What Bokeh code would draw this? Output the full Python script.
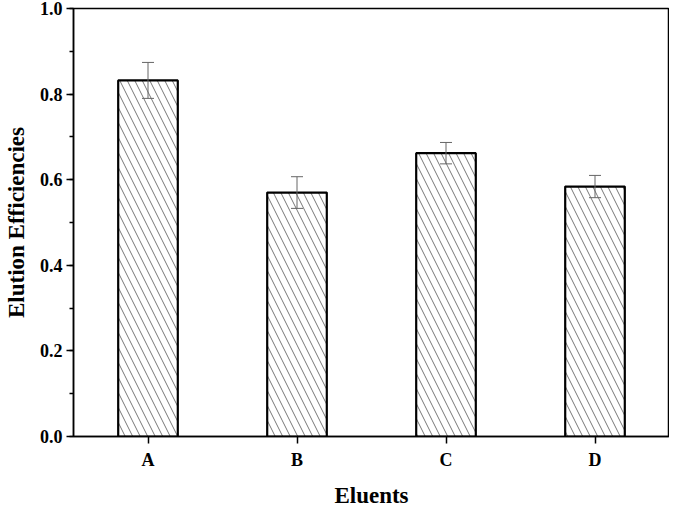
from bokeh.plotting import figure
from bokeh.models import ColumnDataSource, Whisker, SingleIntervalTicker, NumeralTickFormatter, Range1d
from bokeh.embed import file_html
from bokeh.resources import INLINE

eluents = ["A", "B", "C", "D"]
efficiency = [0.832, 0.570, 0.662, 0.584]
error = [0.042, 0.037, 0.025, 0.026]

lower = [v - e for v, e in zip(efficiency, error)]
upper = [v + e for v, e in zip(efficiency, error)]
src = ColumnDataSource(dict(x=eluents, top=efficiency, lower=lower, upper=upper))

p = figure(width=669, height=510, x_range=eluents, y_range=Range1d(0, 1.0),
           output_backend="svg", toolbar_location=None,
           min_border_left=67, min_border_right=0, min_border_top=8, min_border_bottom=60)
p.x_range.range_padding = 0

p.vbar(x="x", top="top", width=0.4, source=src, fill_color="white",
       line_color="black", line_width=2.2,
       hatch_pattern="\\", hatch_color="#777777", hatch_scale=15, hatch_weight=1)

w = Whisker(source=src, base="x", upper="upper", lower="lower",
            line_color="#666666", line_width=1, level="overlay")
w.upper_head.size = 12
w.lower_head.size = 12
w.upper_head.line_color = "#666666"
w.lower_head.line_color = "#666666"
p.add_layout(w)

p.xgrid.visible = False
p.ygrid.visible = False
p.outline_line_color = "black"
p.outline_line_width = 1.5

font = "Liberation Serif"
p.yaxis.ticker = SingleIntervalTicker(interval=0.2, num_minor_ticks=2)
p.yaxis.formatter = NumeralTickFormatter(format="0.0")
for ax in (p.xaxis[0], p.yaxis[0]):
    ax.axis_line_color = "black"
    ax.axis_line_width = 1.5
    ax.major_tick_line_color = "black"
    ax.major_tick_line_width = 1.5
    ax.major_tick_in = 0
    ax.major_tick_out = 7
    ax.minor_tick_in = 0
    ax.minor_tick_out = 4
    ax.minor_tick_line_color = "black"
    ax.minor_tick_line_width = 1.5
    ax.major_label_text_font = font
    ax.major_label_text_font_style = "bold"
    ax.major_label_text_font_size = "18px"
    ax.major_label_text_color = "black"
    ax.axis_label_text_font = font
    ax.axis_label_text_font_style = "bold"
    ax.axis_label_text_font_size = "23px"
    ax.axis_label_text_color = "black"

p.xaxis.axis_label = "Eluents"
p.yaxis.axis_label = "Elution Efficiencies"
p.xaxis.major_label_standoff = 6
p.xaxis.axis_label_standoff = 10
p.yaxis.major_label_standoff = 4
p.yaxis.axis_label_standoff = 8

open("out.html", "w").write(file_html(p, INLINE))
